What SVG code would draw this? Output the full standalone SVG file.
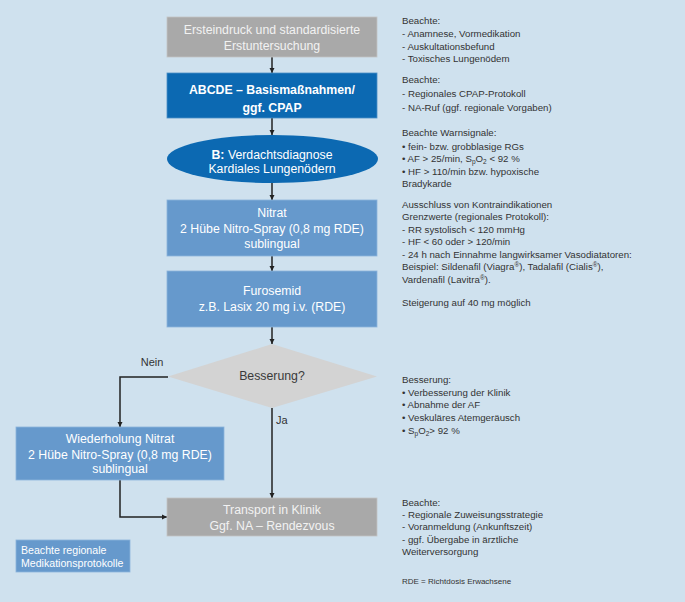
<svg xmlns="http://www.w3.org/2000/svg" width="685" height="602" viewBox="0 0 685 602">
<defs>
<marker id="ah" viewBox="0 0 10 10" refX="10" refY="5" markerWidth="5" markerHeight="6" orient="auto" markerUnits="userSpaceOnUse">
<path d="M0,0 L10,5 L0,10 Z" fill="#222"/>
</marker>
<style>
.bg{fill:#cfe1ee}
.gray{fill:#a9a9a9;stroke:#c4c4c4;stroke-width:0.8}
.dark{fill:#0c69b2;stroke:#4d8fc6;stroke-width:0.8}
.mid{fill:#6699cc;stroke:#8cb3db;stroke-width:0.8}
.dia{fill:#d3d3d3}
.bt{font-family:"Liberation Sans",Arial,sans-serif;font-size:12.3px;fill:#ffffff;text-anchor:middle}
.gt{fill:#f2f2f2}
.b{font-weight:bold}
.note{font-family:"Liberation Sans",Arial,sans-serif;font-size:9.7px;fill:#333333}
.lbl{font-family:"Liberation Sans",Arial,sans-serif;font-size:11px;fill:#333333}
.small{font-size:8px}
.con{fill:none;stroke:#222;stroke-width:1.5}
.sub{font-size:6.5px}
</style>
</defs>
<rect class="bg" x="0" y="0" width="685" height="602"/>

<g id="connectors">
<line class="con" x1="272" y1="57" x2="272" y2="73" marker-end="url(#ah)"/>
<line class="con" x1="272" y1="118" x2="272" y2="135" marker-end="url(#ah)"/>
<line class="con" x1="272" y1="183" x2="272" y2="200" marker-end="url(#ah)"/>
<line class="con" x1="272" y1="256" x2="272" y2="271" marker-end="url(#ah)"/>
<line class="con" x1="272" y1="327" x2="272" y2="344" marker-end="url(#ah)"/>
<polyline class="con" points="168,377 120,377 120,427" marker-end="url(#ah)"/>
<line class="con" x1="272" y1="408" x2="272" y2="498" marker-end="url(#ah)"/>
<polyline class="con" points="120,480 120,517 167,517" marker-end="url(#ah)"/>
<text class="lbl" x="152" y="366" text-anchor="middle">Nein</text>
<text class="lbl" x="276" y="424">Ja</text>
</g>

<g id="n1">
<rect class="gray" x="167" y="17" width="210" height="40"/>
<text class="bt gt" x="272" y="34">Ersteindruck und standardisierte</text>
<text class="bt gt" x="272" y="49.5">Erstuntersuchung</text>
</g>

<g id="n2">
<rect class="dark" x="167" y="73" width="210" height="45"/>
<text class="bt b" x="272" y="94">ABCDE – Basismaßnahmen/</text>
<text class="bt b" x="272" y="111.5">ggf. CPAP</text>
</g>

<g id="n3">
<ellipse fill="#0c69b2" cx="272.5" cy="159" rx="105.5" ry="24"/>
<text class="bt" x="272" y="158.5"><tspan class="b">B:</tspan> Verdachtsdiagnose</text>
<text class="bt" x="272" y="172.5">Kardiales Lungenödern</text>
</g>

<g id="n4">
<rect class="mid" x="167" y="200" width="210" height="56"/>
<text class="bt" x="272" y="217">Nitrat</text>
<text class="bt" x="272" y="232.5">2 Hübe Nitro-Spray (0,8 mg RDE)</text>
<text class="bt" x="272" y="247.5">sublingual</text>
</g>

<g id="n5">
<rect class="mid" x="167" y="271" width="210" height="56"/>
<text class="bt" x="272" y="295">Furosemid</text>
<text class="bt" x="272" y="311">z.B. Lasix 20 mg i.v. (RDE)</text>
</g>

<g id="n6">
<polygon class="dia" points="168,376.5 272,344 377,376.5 272,408"/>
<text class="bt" x="272" y="380" style="fill:#3a3a3a">Besserung?</text>
</g>

<g id="n7">
<rect class="mid" x="16" y="427" width="208" height="53"/>
<text class="bt" x="120" y="442.5">Wiederholung Nitrat</text>
<text class="bt" x="120" y="458.5">2 Hübe Nitro-Spray (0,8 mg RDE)</text>
<text class="bt" x="120" y="472.5">sublingual</text>
</g>

<g id="n8">
<rect class="gray" x="167" y="498" width="210" height="38"/>
<text class="bt gt" x="272" y="513.5">Transport in Klinik</text>
<text class="bt gt" x="272" y="529.5">Ggf. NA – Rendezvous</text>
</g>

<g id="n9">
<rect class="mid" x="16" y="540" width="114" height="32"/>
<text class="note" x="21" y="554" style="fill:#ffffff;font-size:10.6px">Beachte regionale</text>
<text class="note" x="21" y="566.5" style="fill:#ffffff;font-size:10.6px">Medikationsprotokolle</text>
</g>

<g id="notes">
<text class="note" x="402" y="24">Beachte:</text>
<text class="note" x="402" y="37">- Anamnese, Vormedikation</text>
<text class="note" x="402" y="49.5">- Auskultationsbefund</text>
<text class="note" x="402" y="62">- Toxisches Lungenödem</text>

<text class="note" x="402" y="83">Beachte:</text>
<text class="note" x="402" y="97">- Regionales CPAP-Protokoll</text>
<text class="note" x="402" y="111">- NA-Ruf (ggf. regionale Vorgaben)</text>

<text class="note" x="402" y="136">Beachte Warnsignale:</text>
<text class="note" x="402" y="149.5">• fein- bzw. grobblasige RGs</text>
<text class="note" x="402" y="162">• AF &gt; 25/min, S<tspan class="sub" dy="2">p</tspan><tspan dy="-2">O</tspan><tspan class="sub" dy="2">2</tspan><tspan dy="-2"> &lt; 92 %</tspan></text>
<text class="note" x="402" y="175">• HF &gt; 110/min bzw. hypoxische</text>
<text class="note" x="402" y="187">Bradykarde</text>

<text class="note" x="402" y="207.5">Ausschluss von Kontraindikationen</text>
<text class="note" x="402" y="220">Grenzwerte (regionales Protokoll):</text>
<text class="note" x="402" y="232.5">- RR systolisch &lt;  120 mmHg</text>
<text class="note" x="402" y="245">- HF &lt; 60 oder &gt; 120/min</text>
<text class="note" x="402" y="258">- 24 h nach Einnahme langwirksamer Vasodiatatoren:</text>
<text class="note" x="402" y="270">Beispiel: Sildenafil (Viagra<tspan class="sub" dy="-3">®</tspan><tspan dy="3">), Tadalafil (Cialis</tspan><tspan class="sub" dy="-3">®</tspan><tspan dy="3">),</tspan></text>
<text class="note" x="402" y="283">Vardenafil (Lavitra<tspan class="sub" dy="-3">®</tspan><tspan dy="3">).</tspan></text>

<text class="note" x="402" y="305.5">Steigerung auf 40 mg möglich</text>

<text class="note" x="402" y="382.5">Besserung:</text>
<text class="note" x="402" y="395.5">• Verbesserung der Klinik</text>
<text class="note" x="402" y="408">• Abnahme der AF</text>
<text class="note" x="402" y="420.5">• Veskuläres Atemgeräusch</text>
<text class="note" x="402" y="433.5">• S<tspan class="sub" dy="2">p</tspan><tspan dy="-2">O</tspan><tspan class="sub" dy="2">2</tspan><tspan dy="-2">&gt; 92 %</tspan></text>

<text class="note" x="402" y="506">Beachte:</text>
<text class="note" x="402" y="518">- Regionale Zuweisungsstrategie</text>
<text class="note" x="402" y="530">- Voranmeldung (Ankunftszeit)</text>
<text class="note" x="402" y="542.5">- ggf. Übergabe in ärztliche</text>
<text class="note" x="402" y="555">Weiterversorgung</text>

<text class="note small" x="402" y="584">RDE = Richtdosis Erwachsene</text>
</g>
</svg>
